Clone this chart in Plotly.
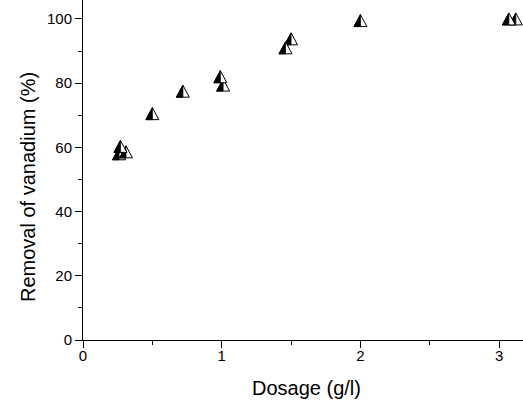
import plotly.graph_objects as go

# Series
dose_a = [0.27, 0.50, 0.72, 0.99, 1.46, 2.00, 3.07]
removal_a = [60.3, 70.5, 77.5, 82.0, 91.0, 99.5, 100.0]
dose_b = [0.26, 0.31, 1.01, 1.50, 3.12]
removal_b = [58.0, 58.6, 79.4, 93.8, 100.0]

x_ticks = [0, 1, 2, 3]
y_ticks = [0, 20, 40, 60, 80, 100]

X_RANGE = [0, 3.172]
Y_RANGE = [0, 105.9]
PLOT_W, PLOT_H = 440, 340
MARGIN = dict(l=83, r=0, t=0, b=61)

# marker size in px -> data units
HALF_W_PX, HALF_H_PX = 6.5, 6.0
hw = HALF_W_PX * (X_RANGE[1] - X_RANGE[0]) / PLOT_W
hh = HALF_H_PX * (Y_RANGE[1] - Y_RANGE[0]) / PLOT_H


def triangles(xs, ys, half):
    px, py = [], []
    for x, y in zip(xs, ys):
        if half:
            px += [x - hw, x, x, x - hw, None]
            py += [y - hh, y - hh, y + hh, y - hh, None]
        else:
            px += [x - hw, x + hw, x, x - hw, None]
            py += [y - hh, y - hh, y + hh, y - hh, None]
    return px, py


fig = go.Figure()
for xs, ys in [(dose_b, removal_b), (dose_a, removal_a)]:
    tx, ty = triangles(xs, ys, half=False)
    fig.add_trace(go.Scatter(x=tx, y=ty, mode="lines", fill="toself",
                             fillcolor="white", line=dict(color="black", width=1),
                             showlegend=False, hoverinfo="skip", cliponaxis=False))
    hx, hy = triangles(xs, ys, half=True)
    fig.add_trace(go.Scatter(x=hx, y=hy, mode="lines", fill="toself",
                             fillcolor="black", line=dict(color="black", width=0.8),
                             showlegend=False, hoverinfo="skip", cliponaxis=False))

axis_common = dict(
    showgrid=False, zeroline=False, showline=True, linecolor="black", linewidth=1,
    ticks="outside", ticklen=7, tickwidth=1, tickcolor="black", automargin=False,
    tickfont=dict(family="Liberation Sans, Arial", size=15, color="black"),
)

title_font = dict(family="Liberation Sans, Arial", size=20, color="black")

fig.update_layout(
    width=523, height=401,
    margin=MARGIN,
    paper_bgcolor="white", plot_bgcolor="white",
    xaxis=dict(range=X_RANGE, tickvals=x_ticks, ticklabelstandoff=-5,
               minor=dict(dtick=0.5, tick0=0, ticks="outside", ticklen=4, tickcolor="black"),
               **axis_common),
    yaxis=dict(range=Y_RANGE, tickvals=y_ticks,
               minor=dict(dtick=10, tick0=0, ticks="outside", ticklen=4, tickcolor="black"),
               **axis_common),
    annotations=[
        dict(text="Dosage (g/l)", xref="paper", yref="paper",
             x=(306 - 83) / PLOT_W, y=(340 - 388) / PLOT_H,
             xanchor="center", yanchor="middle", showarrow=False, font=title_font),
        dict(text="Removal of vanadium (%)", xref="paper", yref="paper",
             x=(28 - 83) / PLOT_W, y=(340 - 187) / PLOT_H, textangle=-90,
             xanchor="center", yanchor="middle", showarrow=False, font=title_font),
    ],
)

fig.write_html("out.html", config={"displayModeBar": False},
               post_script="document.body.style.margin='0';document.body.style.overflow='hidden';")
